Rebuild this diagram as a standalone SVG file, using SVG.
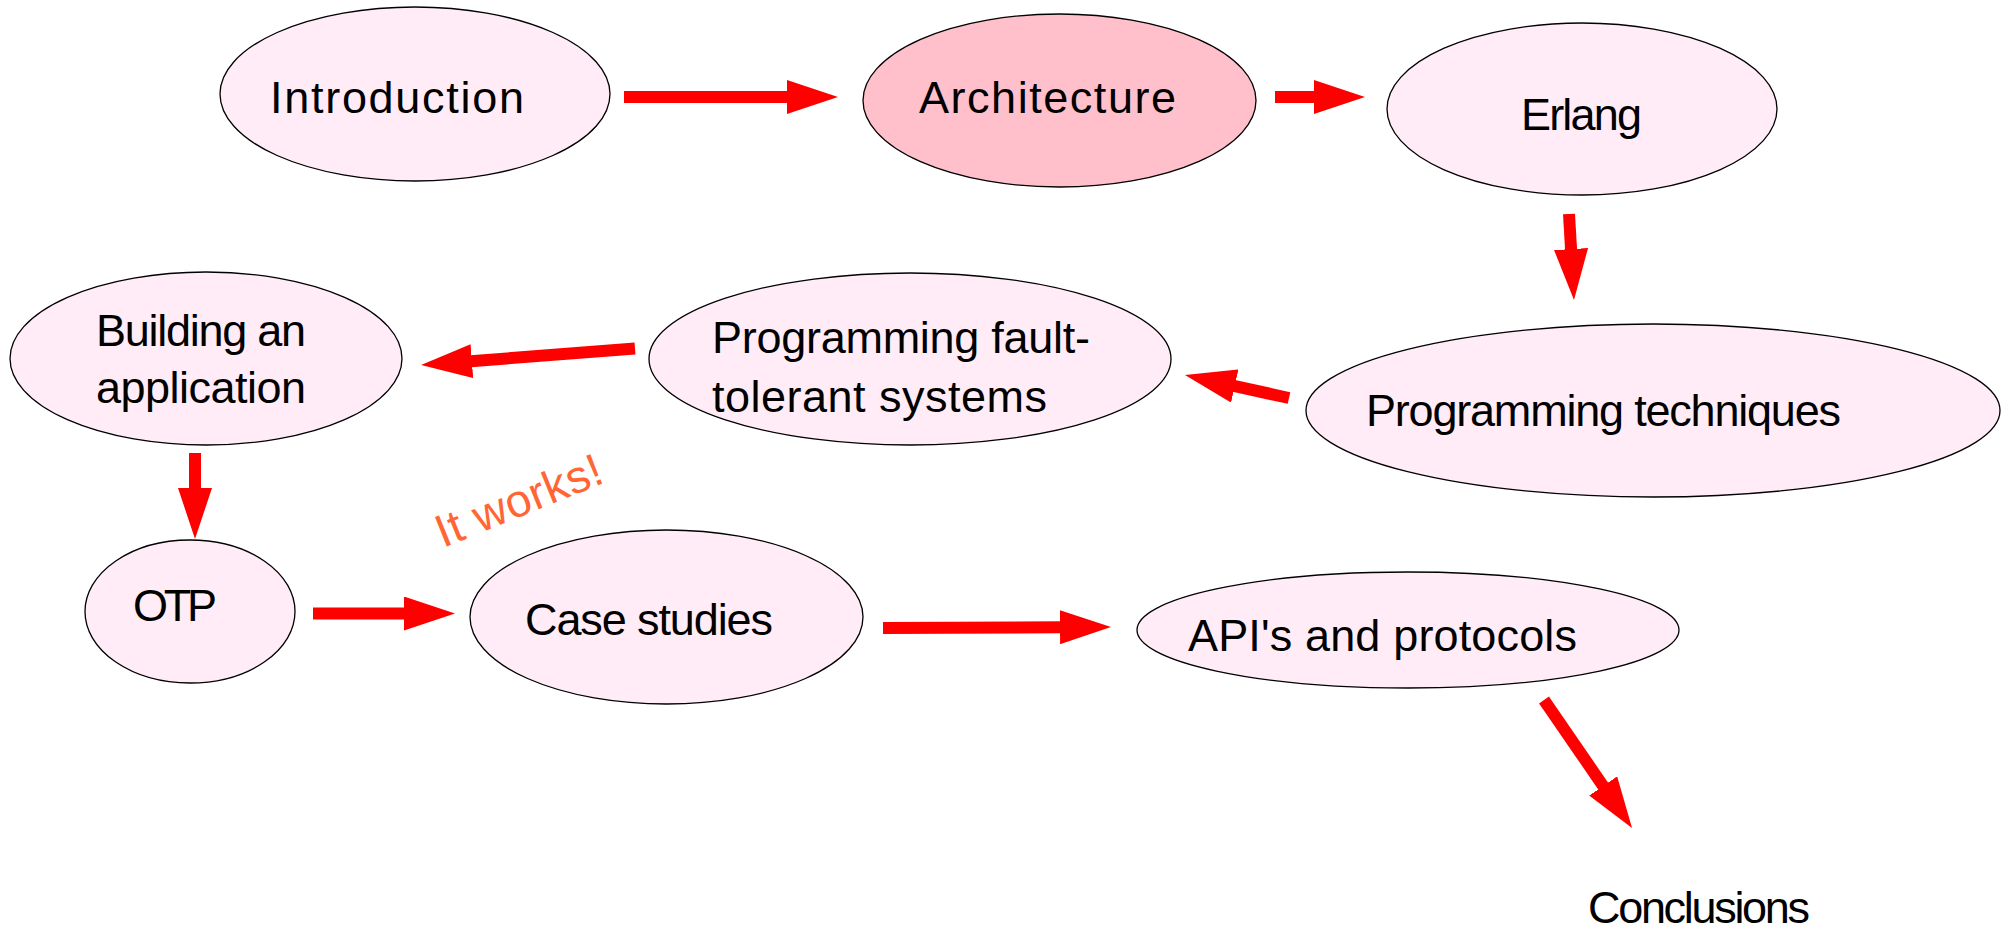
<svg xmlns="http://www.w3.org/2000/svg" width="2013" height="930" viewBox="0 0 2013 930">
<style>
.n{fill:#FFECF6;stroke:#000;stroke-width:1.3}
.hi{fill:#FFBFCB}
.t{font-family:"Liberation Sans","DejaVu Sans",sans-serif;font-size:45px;fill:#000}
.c{stroke:#FF0000;stroke-width:12;fill:none;marker-end:url(#ah)}
.w{font-family:"Liberation Sans","DejaVu Sans",sans-serif;font-size:46px;fill:#FF6633}
</style>
<defs>
<marker id="ah" markerUnits="userSpaceOnUse" markerWidth="52" markerHeight="34" refX="1" refY="17" orient="auto" viewBox="0 0 52 34">
<path d="M0,0 L51,17 L0,34 z" fill="#FF0000"/>
</marker>
</defs>
<rect width="2013" height="930" fill="#fff"/>
<g id="connectors">
<line class="c" x1="624" y1="97" x2="788" y2="97"/>
<line class="c" x1="1275" y1="97" x2="1315" y2="97"/>
<line class="c" x1="1569" y1="214" x2="1571.1" y2="250.1"/>
<line class="c" x1="1289" y1="398" x2="1233.8" y2="385.8"/>
<line class="c" x1="635" y1="348.5" x2="470.9" y2="361.2"/>
<line class="c" x1="195" y1="453" x2="195" y2="489"/>
<line class="c" x1="313" y1="613.5" x2="405" y2="613.5"/>
<line class="c" x1="883" y1="628" x2="1061" y2="627.2"/>
<line class="c" x1="1544" y1="700" x2="1603.7" y2="786.8"/>
</g>
<g id="introduction"><ellipse class="n" cx="415" cy="94" rx="195" ry="87"/><text class="t" x="270" y="113" textLength="254">Introduction</text></g>
<g id="architecture"><ellipse class="n hi" cx="1059.5" cy="100.5" rx="196.5" ry="86.5"/><text class="t" x="919" y="113" textLength="257">Architecture</text></g>
<g id="erlang"><ellipse class="n" cx="1582" cy="109" rx="195" ry="86"/><text class="t" x="1521" y="130" textLength="121">Erlang</text></g>
<g id="programming-techniques"><ellipse class="n" cx="1653" cy="410.5" rx="347" ry="86.5"/><text class="t" x="1366" y="426" textLength="475">Programming techniques</text></g>
<g id="fault-tolerant"><ellipse class="n" cx="910" cy="359" rx="261" ry="86"/><text class="t" x="712" y="353" textLength="378">Programming fault-</text><text class="t" x="712" y="412" textLength="335">tolerant systems</text></g>
<g id="building"><ellipse class="n" cx="206" cy="358.5" rx="196" ry="86.5"/><text class="t" x="96" y="346" textLength="210">Building an</text><text class="t" x="96" y="403" textLength="210">application</text></g>
<g id="otp"><ellipse class="n" cx="190" cy="611.5" rx="105" ry="71.5"/><text class="t" x="133" y="621" textLength="84">OTP</text></g>
<g id="case-studies"><ellipse class="n" cx="666.5" cy="617" rx="196.5" ry="87"/><text class="t" x="525" y="635" textLength="248">Case studies</text></g>
<g id="apis"><ellipse class="n" cx="1408" cy="630" rx="271" ry="58"/><text class="t" x="1188" y="651" textLength="389">API's and protocols</text></g>
<g id="conclusions"><text class="t" x="1588" y="923" textLength="222">Conclusions</text></g>
<g id="it-works"><text class="w" x="0" y="0" transform="translate(443,548) rotate(-22)" textLength="176">It works!</text></g>
</svg>
